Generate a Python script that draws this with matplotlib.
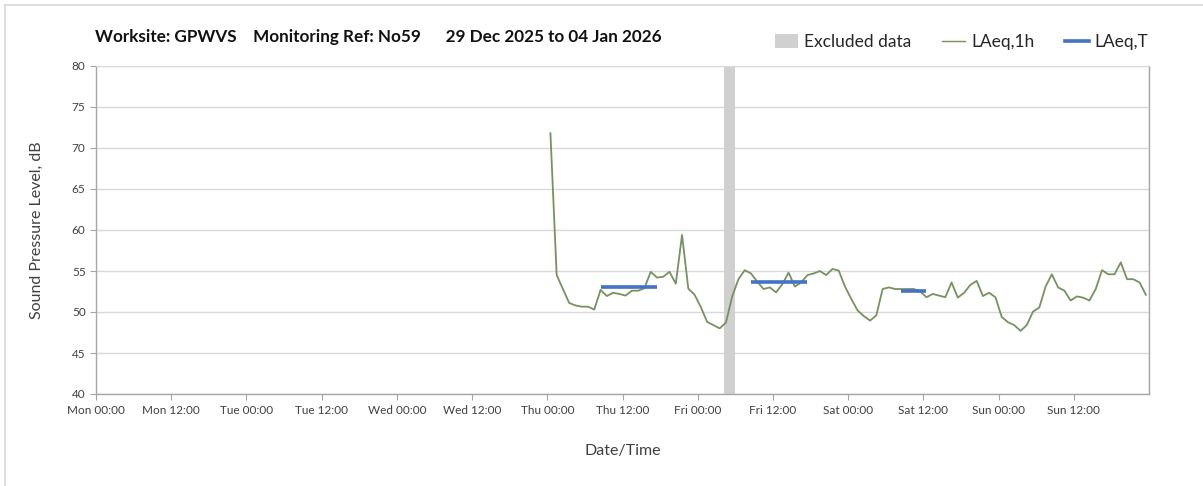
import matplotlib
matplotlib.use("Agg")
import matplotlib.pyplot as plt
import matplotlib.dates as mdates
from matplotlib.patches import Patch
from matplotlib.lines import Line2D
import numpy as np
import pandas as pd

# ---------------- data ----------------
title = "Worksite: GPWVS    Monitoring Ref: No59      29 Dec 2025 to 04 Jan 2026"
week_start = "2025-12-29 00:00"
week_end = "2026-01-05 00:00"
data_start = "2026-01-01 00:30"   # hourly values plotted at hour midpoints

laeq_thu = [71.8, 54.5, 52.8, 51.1, 50.8, 50.65, 50.65, 50.3, 52.7, 51.95, 52.35, 52.2,
            52.0, 52.6, 52.6, 52.9, 54.9, 54.2, 54.3, 54.9, 53.45, 59.4, 52.85, 52.1]
laeq_fri = [50.6, 48.8, 48.4, 48.0, 48.7, 51.9, 54.0, 55.1, 54.7, 53.7, 52.8, 53.0,
            52.4, 53.4, 54.8, 53.1, 53.6, 54.5, 54.7, 55.0, 54.5, 55.25, 55.05, 53.1]
laeq_sat = [51.6, 50.2, 49.5, 48.95, 49.6, 52.8, 53.0, 52.8, 52.8, 52.8, 52.8, 52.5,
            51.8, 52.2, 52.0, 51.8, 53.6, 51.75, 52.35, 53.3, 53.8, 51.95, 52.35, 51.8]
laeq_sun = [49.4, 48.75, 48.4, 47.7, 48.4, 50.05, 50.55, 53.1, 54.6, 53.0, 52.6, 51.4,
            51.9, 51.75, 51.4, 52.8, 55.1, 54.6, 54.6, 56.05, 54.0, 54.0, 53.6, 52.1]

# LAeq,T periods: (start, end, level)
laeqT_starts = ["2026-01-01 08:30", "2026-01-02 08:30", "2026-01-03 08:30"]
laeqT_ends = ["2026-01-01 17:30", "2026-01-02 17:30", "2026-01-03 12:30"]
laeqT_levels = [53.0, 53.65, 52.5]

excluded_start = "2026-01-02 04:10"
excluded_end = "2026-01-02 06:00"

y_min, y_max, y_step = 40, 80, 5

# ---------------- figure ----------------
plt.rcParams['font.family'] = ['Lato', 'DejaVu Sans']
W, H, DPI = 1203, 486, 100
fig = plt.figure(figsize=(W / DPI, H / DPI), dpi=DPI)
ax = fig.add_axes([96 / W, 1 - 394 / H, (1149 - 96) / W, (394 - 66) / H])

grid_c = "#d9d9d9"
axis_c = "#a6a6a6"

values = laeq_thu + laeq_fri + laeq_sat + laeq_sun
times = pd.date_range(data_start, periods=len(values), freq="h")

ax.axvspan(pd.Timestamp(excluded_start), pd.Timestamp(excluded_end),
           color="#d0d0d0", lw=0, zorder=1)
ax.plot(times, values, color="#76925f", lw=1.3, zorder=3)
for s, e, lv in zip(laeqT_starts, laeqT_ends, laeqT_levels):
    ax.plot([pd.Timestamp(s), pd.Timestamp(e)], [lv, lv], color="#4472c4",
            lw=2.6, solid_capstyle="butt", zorder=4)

ax.set_xlim(pd.Timestamp(week_start), pd.Timestamp(week_end))
ax.set_ylim(y_min, y_max)
ax.set_yticks(np.arange(y_min, y_max + 1, y_step))

tick_times = pd.date_range(week_start, week_end, freq="12h")[:-1]
ax.set_xticks(tick_times)
ax.xaxis.set_major_formatter(mdates.DateFormatter("%a %H:%M"))
ax.xaxis.set_minor_locator(mdates.DayLocator())
ax.grid(False)
ax.grid(True, which="minor", axis="x", color=grid_c, lw=1.0, zorder=0)
ax.grid(True, which="major", axis="y", color=grid_c, lw=1.0, zorder=0)
ax.set_axisbelow(True)

ax.tick_params(axis="x", which="major", length=4, color=axis_c, labelsize=8.5,
               labelcolor="#404040", pad=4)
ax.tick_params(axis="x", which="minor", length=0)
ax.tick_params(axis="y", length=4, color=axis_c, labelsize=8.5, labelcolor="#404040")

for side in ["left", "bottom", "right"]:
    ax.spines[side].set_color(axis_c)
    ax.spines[side].set_linewidth(1.0)
ax.spines["top"].set_color(grid_c)

ax.set_ylabel("Sound Pressure Level, dB", fontsize=11.5, color="#404040", labelpad=20)
ax.set_xlabel("Date/Time", fontsize=11.5, color="#404040", labelpad=20)

fig.text(95 / W, 1 - 37 / H, title, fontsize=12.3, fontweight="bold",
         color="#111111", va="center", ha="left")

handles = [Patch(facecolor="#d0d0d0", edgecolor="none"),
           Line2D([], [], color="#76925f", lw=1.0),
           Line2D([], [], color="#4472c4", lw=2.6)]
labels = ["Excluded data", "LAeq,1h", "LAeq,T"]
fig.legend(handles, labels, loc="center right", bbox_to_anchor=(1164 / W, 1 - 42 / H),
           ncol=3, frameon=False, fontsize=12.5, handlelength=1.35, handleheight=0.8,
           columnspacing=1.75, handletextpad=0.35, labelcolor="#262626")

# outer border (top and left only visible)
fig.add_artist(Line2D([5 / W, 1], [1 - 5 / H, 1 - 5 / H], transform=fig.transFigure,
                      color="#d9d9d9", lw=1.2))
fig.add_artist(Line2D([5 / W, 5 / W], [0, 1 - 5 / H], transform=fig.transFigure,
                      color="#d9d9d9", lw=1.2))

fig.savefig("out.png", dpi=DPI)
